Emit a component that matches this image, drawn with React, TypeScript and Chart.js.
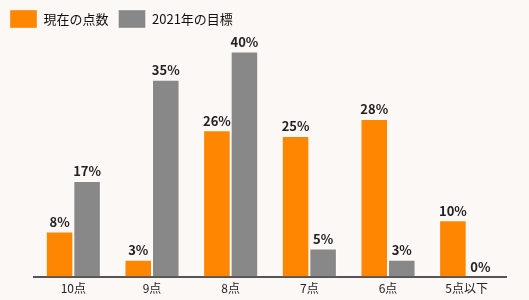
import React, { useEffect, useRef } from "react";
import { Chart, registerables } from "chart.js";

Chart.register(...registerables);

const categories = ["10点", "9点", "8点", "7点", "6点", "5点以下"];
const currentScores = [8, 3, 26, 25, 28, 10];
const goals2021 = [17, 35, 40, 5, 3, 0];
const seriesNames = ["現在の点数", "2021年の目標"];

const FONT = '"Noto Sans CJK JP", "Noto Sans", sans-serif';

const valueLabels = {
  id: "valueLabels",
  afterDatasetsDraw(chart: any) {
    const ctx = chart.ctx;
    ctx.save();
    ctx.font = `bold 13px ${FONT}`;
    ctx.fillStyle = "#222";
    ctx.textAlign = "center";
    ctx.textBaseline = "bottom";
    chart.data.datasets.forEach((ds: any, di: number) => {
      const meta = chart.getDatasetMeta(di);
      meta.data.forEach((el: any, i: number) => {
        ctx.fillText(ds.data[i] + "%", el.x, el.y - 3);
      });
    });
    ctx.restore();
  },
};

export default function App() {
  const ref = useRef<HTMLCanvasElement>(null);
  useEffect(() => {
    if (!ref.current) return;
    const chart = new Chart(ref.current, {
      type: "bar",
      data: {
        labels: categories,
        datasets: [
          {
            label: seriesNames[0],
            data: currentScores,
            backgroundColor: "#ff8600",
            borderColor: "rgba(255,255,255,0.35)",
            borderWidth: 1,
            categoryPercentage: 0.7,
            barPercentage: 1.0,
          },
          {
            label: seriesNames[1],
            data: goals2021,
            backgroundColor: "#888888",
            borderColor: "rgba(255,255,255,0.35)",
            borderWidth: 1,
            categoryPercentage: 0.7,
            barPercentage: 1.0,
          },
        ],
      },
      options: {
        animation: false,
        responsive: false,
        maintainAspectRatio: false,
        layout: { padding: { left: 0, right: 23, top: 0, bottom: 0 } },
        plugins: {
          legend: {
            position: "top",
            align: "start",
            labels: {
              boxWidth: 27,
              boxHeight: 18,
              padding: 10,
              color: "#111",
              font: { size: 13, family: FONT },
            },
          },
          tooltip: { enabled: false },
        },
        scales: {
          x: {
            grid: { display: false, drawTicks: false },
            border: { display: true, color: "#555", width: 2 },
            ticks: { color: "#222", padding: 5, font: { size: 12, family: FONT } },
            afterFit: (scale: any) => {
              scale.height = 23.5;
            },
          },
          y: {
            min: 0,
            max: 42.4,
            grid: { display: false },
            border: { display: false },
            ticks: { display: false },
            afterFit: (scale: any) => {
              scale.width = 34;
            },
          },
        },
      },
      plugins: [valueLabels],
    });
    return () => chart.destroy();
  }, []);
  return (
    <div
      style={{
        position: "fixed",
        left: 0,
        top: 0,
        width: 529,
        height: 300,
        background: "#fcf8f5",
      }}
    >
      <canvas ref={ref} width={529} height={300} />
    </div>
  );
}
